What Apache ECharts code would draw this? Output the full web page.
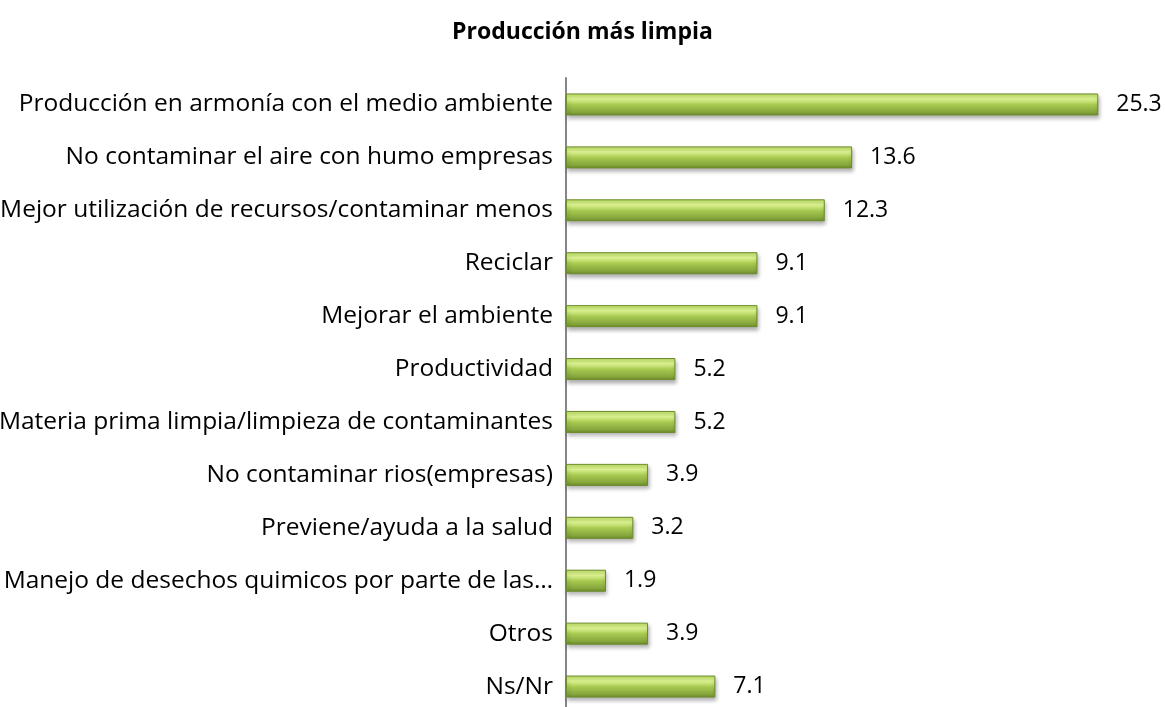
<!DOCTYPE html>
<html><head><meta charset="utf-8">
<script src="https://cdn.jsdelivr.net/npm/echarts@6/dist/echarts.min.js"></script>
<style>html,body{margin:0;padding:0;background:#fff}#c{width:1165px;height:707px}</style>
</head><body><div id="c"></div>
<script>
const categories = [
  "Producción en armonía con el medio ambiente",
  "No contaminar el aire con humo empresas",
  "Mejor utilización de recursos/contaminar menos",
  "Reciclar",
  "Mejorar el ambiente",
  "Productividad",
  "Materia prima limpia/limpieza de contaminantes",
  "No contaminar rios(empresas)",
  "Previene/ayuda a la salud",
  "Manejo de desechos quimicos por parte de las…",
  "Otros",
  "Ns/Nr"
];
const values = [25.3, 13.6, 12.3, 9.1, 9.1, 5.2, 5.2, 3.9, 3.2, 1.9, 3.9, 7.1];
const titleText = "Producción más limpia";

const FONT = "'Open Sans', 'Noto Sans', sans-serif";
const chart = echarts.init(document.getElementById('c'));
chart.setOption({
  animation: false,
  title: {
    text: titleText, left: 'center', top: 16,
    textStyle: {fontFamily: FONT, fontSize: 23, fontWeight: 'bold', color: '#000'}
  },
  grid: {left: 566, top: 78, width: 547, height: 635, containLabel: false, outerBoundsMode: 'none'},
  xAxis: {type: 'value', min: 0, max: 26, show: false},
  yAxis: {
    type: 'category', data: categories, inverse: true,
    axisLine: {show: true, lineStyle: {color: '#868686', width: 2}},
    axisTick: {show: false},
    axisLabel: {fontFamily: FONT, fontSize: 24.5, color: '#000', margin: 13}
  },
  series: [{
    type: 'bar', data: values, barWidth: 22,
    itemStyle: {
      color: new echarts.graphic.LinearGradient(0, 0, 0, 1, [
        {offset: 0, color: '#b8dc60'},
        {offset: 0.25, color: '#e2f896'},
        {offset: 0.5, color: '#a9cb52'},
        {offset: 0.85, color: '#86a63c'},
        {offset: 1, color: '#6a8a2a'}
      ]),
      borderColor: '#6d8c2c', borderWidth: 1,
      shadowColor: 'rgba(0,0,0,0.3)', shadowBlur: 4, shadowOffsetX: 1, shadowOffsetY: 3
    },
    label: {
      show: true, position: 'right', distance: 18,
      fontFamily: FONT, fontSize: 23, color: '#000',
      formatter: p => p.value.toFixed(1)
    }
  }]
});
</script></body></html>
